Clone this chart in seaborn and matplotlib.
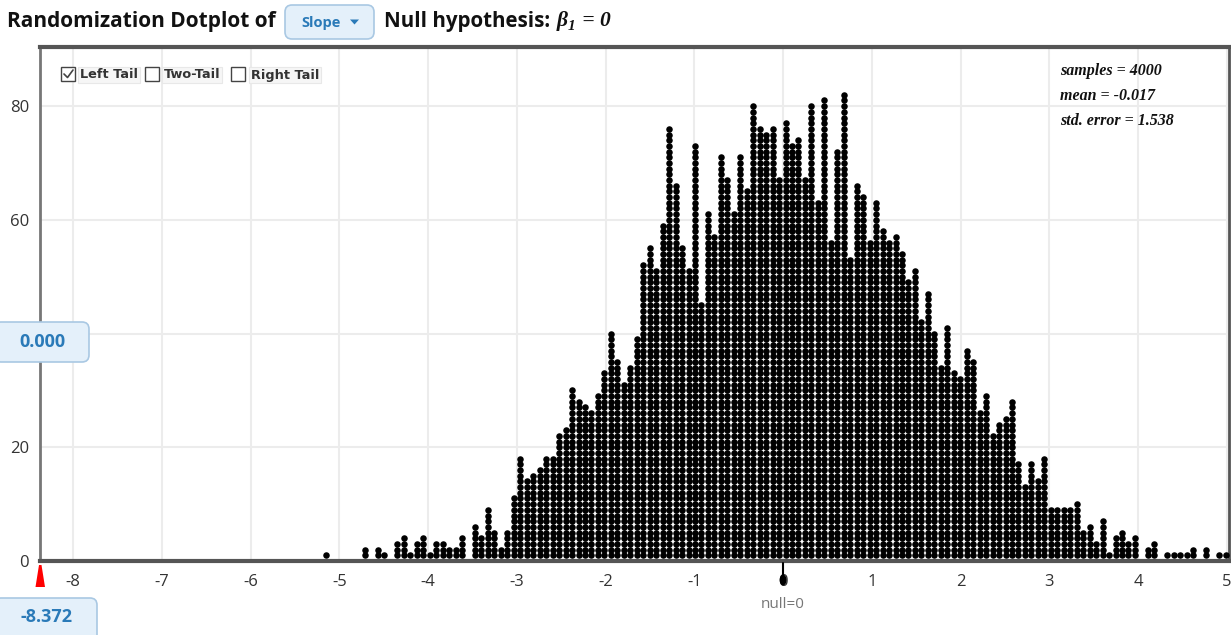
import numpy as np
import pandas as pd
import matplotlib
matplotlib.use("Agg")
import matplotlib.pyplot as plt
import seaborn as sns
from matplotlib.patches import FancyBboxPatch, Rectangle, Polygon, Ellipse

# ---------------- data ----------------
counts = [1, 0, 0, 0, 0, 0, 2, 0, 2, 1, 0, 3, 4, 1, 3, 4, 1, 3, 3, 2,
          2, 4, 0, 6, 4, 9, 5, 2, 5, 11, 18, 14, 15, 16, 18, 18, 22, 23, 30, 28,
          27, 26, 29, 33, 40, 35, 31, 34, 39, 52, 55, 51, 59, 76, 66, 55, 51, 73, 45, 61,
          57, 71, 67, 61, 71, 65, 80, 76, 75, 76, 67, 77, 73, 74, 67, 80, 63, 81, 56, 72,
          82, 53, 66, 64, 56, 63, 58, 56, 57, 54, 49, 51, 42, 47, 40, 34, 41, 33, 32, 37,
          35, 26, 29, 22, 24, 25, 28, 17, 13, 17, 14, 18, 9, 9, 9, 9, 10, 5, 6, 3,
          7, 1, 4, 5, 3, 4, 0, 2, 3, 0, 1, 1, 1, 1, 2, 0, 2, 0, 1, 1]
first_center = -5.148
bin_width = 0.0729
x_ticks = list(range(-8, 6))
y_ticks = [0, 20, 40, 60, 80]
y_tick_labels = ["0", "20", "", "60", "80"]   # "40" is hidden under the badge
stats_lines = ["samples = 4000", "mean = -0.017", "std. error = 1.538"]
tail_options = ["Left Tail", "Two-Tail", "Right Tail"]
tail_checked = [True, False, False]
statistic_name = "Slope"
left_value = "-8.372"
prop_value = "0.000"
null_label = "null=0"
null_value = 0.0
x_min, x_max = -8.372, 5.024

# ---------------- build dot table ----------------
xs, ys = [], []
for k, n in enumerate(counts):
    for i in range(1, n + 1):
        xs.append(first_center + k * bin_width)
        ys.append(i)
df = pd.DataFrame({"stat": xs, "level": ys})

sns.set_theme(style="white")
plt.rcParams['font.family'] = ['Open Sans', 'DejaVu Sans']

W, H = 1231, 635
fig = plt.figure(figsize=(W / 100, H / 100), dpi=100)
L, R, T, B = 40, 1229, 47, 561
ax = fig.add_axes([L / W, 1 - B / H, (R - L) / W, (B - T) / H])

sns.scatterplot(data=df, x="stat", y="level", ax=ax, s=22, color="black",
                linewidth=0, legend=False, zorder=3)
ax.set_xlim(x_min, x_max)
ax.set_ylim(0, 90.4)
ax.set_xticks(x_ticks)
ax.set_xticklabels([str(t) for t in x_ticks])
ax.set_yticks(y_ticks)
ax.set_yticklabels(y_tick_labels)
ax.set_xlabel("")
ax.set_ylabel("")
ax.grid(True, color="#ececec", lw=1.5)
ax.set_axisbelow(True)
ax.tick_params(axis="both", length=0, labelsize=12, colors="#333333")
ax.tick_params(axis="x", pad=9)
ax.tick_params(axis="y", pad=8)
for lab in ax.get_xticklabels() + ax.get_yticklabels():
    lab.set_color("#333333")
ax.spines["left"].set_color("#777777"); ax.spines["left"].set_linewidth(2)
ax.spines["top"].set_color("#555555"); ax.spines["top"].set_linewidth(3)
ax.spines["right"].set_color("#555555"); ax.spines["right"].set_linewidth(2)
ax.spines["bottom"].set_color("#555555"); ax.spines["bottom"].set_linewidth(3)

# ---------------- overlay in pixel coordinates ----------------
ov = fig.add_axes([0, 0, 1, 1], zorder=5)
ov.set_xlim(0, W)
ov.set_ylim(H, 0)
ov.axis("off")
ov.patch.set_alpha(0)

fig.canvas.draw()
rend = fig.canvas.get_renderer()


def tw(t):
    bb = t.get_window_extent(rend)
    return bb.width


# title
ov.text(7, 21, "Randomization Dotplot of", fontsize=15.0, fontweight="bold",
        color="#111111", va="center", ha="left")
ov.add_patch(FancyBboxPatch((285, 5), 89, 34, boxstyle="round,pad=0,rounding_size=7",
                            fc="#e4f0fa", ec="#a9c8e3", lw=1.2))
ov.text(301, 22.5, statistic_name, fontsize=10.5, fontweight="bold", color="#2a7ab8",
        va="center", ha="left")
ov.add_patch(Polygon([[350, 19.5], [359, 19.5], [354.5, 24.5]], closed=True,
                     fc="#2a7ab8", ec="none"))
tn = ov.text(384, 21, "Null hypothesis:", fontsize=14.8, fontweight="bold",
             color="#111111", va="center", ha="left")
fig.canvas.draw()
serif = ["Liberation Serif", "DejaVu Serif"]
bstart = max(557, 384 + tw(tn) + 7)
tb = ov.text(bstart, 21, "β", fontsize=15.5, fontweight="bold", fontstyle="italic",
             family=serif, color="#111111", va="center", ha="left")
fig.canvas.draw()
bx = bstart + tw(tb)
ts = ov.text(bx, 26, "1", fontsize=11, fontweight="bold", fontstyle="italic",
             family=serif, color="#111111", va="center", ha="left")
fig.canvas.draw()
ov.text(bx + tw(ts) + 1, 21, " = 0", fontsize=15.5, fontweight="bold", fontstyle="italic",
        family=serif, color="#111111", va="center", ha="left")

# tail checkboxes
box_x = [61, 145, 231]
lab_x = [80, 164, 251]
for bxp, lxp, name, chk in zip(box_x, lab_x, tail_options, tail_checked):
    ov.add_patch(Rectangle((bxp, 67), 14, 14, fc="white", ec="#444444", lw=1.0))
    if chk:
        ov.plot([bxp + 3, bxp + 6.5, bxp + 12], [74, 77.5, 70], color="#444444", lw=1.2)
    ov.text(lxp, 75, name, fontsize=9.3, fontweight="bold", color="#333333",
            va="center", ha="left", family=["DejaVu Sans"],
            bbox=dict(boxstyle="square,pad=0.12", fc="#f6f6f6", ec="#e8e8e8", lw=0.8))

# stats text
for i, line in enumerate(stats_lines):
    ov.text(1060, 71 + 25 * i, line, fontsize=11.5, fontweight="bold", fontstyle="italic",
            family=serif, color="#111111", va="center", ha="left")

# proportion badge
ov.add_patch(FancyBboxPatch((-6, 322), 95, 40, boxstyle="round,pad=0,rounding_size=7",
                            fc="#e4f0fa", ec="#a9c8e3", lw=1.2))
ov.text(42, 342, prop_value, fontsize=13, fontweight="bold", color="#2a7ab8",
        va="center", ha="center")
# left cutoff badge
ov.add_patch(FancyBboxPatch((-6, 598), 103, 44, boxstyle="round,pad=0,rounding_size=7",
                            fc="#e4f0fa", ec="#a9c8e3", lw=1.2))
ov.text(47, 617, left_value, fontsize=13, fontweight="bold", color="#2a7ab8",
        va="center", ha="center")

# red cutoff marker at left edge
ov.add_patch(Polygon([[35.5, 587], [45, 587], [41.5, 565], [39, 565]], closed=True,
                     fc="#ff0000", ec="none"))

# null marker
null_px = L + (null_value - x_min) / (x_max - x_min) * (R - L)
ov.plot([null_px, null_px], [563, 576], color="black", lw=1.5)
ov.add_patch(Ellipse((null_px, 580), 7, 11, fc="black", ec="none"))
ov.text(null_px, 604, null_label, fontsize=11, color="#777777", va="center", ha="center")

fig.savefig("out.png", dpi=100)
